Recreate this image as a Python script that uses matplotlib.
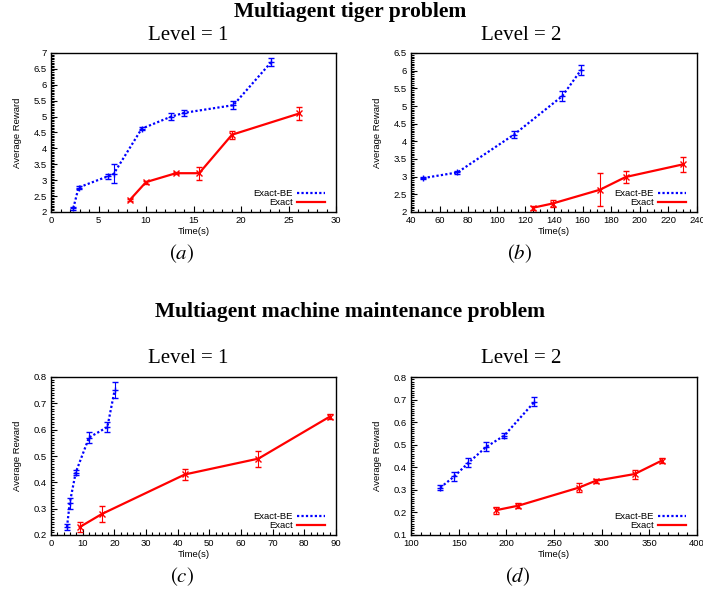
import matplotlib
matplotlib.use("Agg")
import matplotlib.pyplot as plt
from matplotlib.lines import Line2D
from matplotlib.ticker import MultipleLocator, FuncFormatter

plt.rcParams["mathtext.fontset"] = "stix"

# ---- data ----
# (a) tiger, level 1
a_be_x = [2.35, 2.9, 5.96, 6.6, 9.55, 12.65, 14.05, 19.2, 23.2]
a_be_y = [2.12, 2.77, 3.12, 3.2, 4.62, 5.0, 5.12, 5.36, 6.72]
a_be_e = [0.05, 0.05, 0.08, 0.3, 0.05, 0.12, 0.1, 0.12, 0.12]
a_ex_x = [8.3, 10.0, 13.15, 15.6, 19.05, 26.15]
a_ex_y = [2.38, 2.94, 3.22, 3.22, 4.43, 5.1]
a_ex_e = [0.04, 0.05, 0.04, 0.21, 0.12, 0.2]
# (b) tiger, level 2
b_be_x = [48.6, 72.5, 112.0, 145.8, 158.9]
b_be_y = [2.96, 3.12, 4.19, 5.28, 6.02]
b_be_e = [0.03, 0.05, 0.1, 0.14, 0.15]
b_ex_x = [125.2, 139.0, 172.1, 190.1, 230.4]
b_ex_y = [2.12, 2.24, 2.63, 2.99, 3.35]
b_ex_e = [0.06, 0.09, 0.47, 0.17, 0.21]
# (c) machine, level 1
c_be_x = [5.05, 5.9, 7.8, 12.0, 17.8, 20.1]
c_be_y = [0.23, 0.32, 0.437, 0.57, 0.61, 0.75]
c_be_e = [0.01, 0.02, 0.01, 0.02, 0.02, 0.03]
c_ex_x = [9.04, 16.1, 42.3, 65.5, 88.1]
c_ex_y = [0.23, 0.28, 0.43, 0.49, 0.65]
c_ex_e = [0.02, 0.03, 0.02, 0.03, 0.01]
# (d) machine, level 2
d_be_x = [130.8, 145.5, 160.2, 178.8, 197.7, 229.5]
d_be_y = [0.31, 0.36, 0.42, 0.49, 0.54, 0.69]
d_be_e = [0.01, 0.02, 0.02, 0.02, 0.01, 0.02]
d_ex_x = [189.3, 212.7, 276.1, 293.6, 334.5, 363.2]
d_ex_y = [0.21, 0.23, 0.31, 0.34, 0.37, 0.43]
d_ex_e = [0.015, 0.01, 0.02, 0.01, 0.02, 0.01]

legend_labels = ["Exact-BE", "Exact"]
BLUE = "#0000ff"
RED = "#ff0000"

W, H = 703, 593
fig = plt.figure(figsize=(W / 100, H / 100), dpi=100)

def rect(l, t, r, b):
    return [l / W, 1 - b / H, (r - l) / W, (b - t) / H]

SANS = "Liberation Sans"
SERIF = "Liberation Serif"
fmt = FuncFormatter(lambda v, p: "%g" % round(v, 6))

panels = [
    (rect(51, 53, 336, 212), a_be_x, a_be_y, a_be_e, a_ex_x, a_ex_y, a_ex_e,
     (0, 30), 5, 1, (2, 7), 0.5, 0.05),
    (rect(411, 53, 697, 212), b_be_x, b_be_y, b_be_e, b_ex_x, b_ex_y, b_ex_e,
     (40, 240), 20, 5, (2, 6.5), 0.5, 0.05),
    (rect(51, 377, 336, 535), c_be_x, c_be_y, c_be_e, c_ex_x, c_ex_y, c_ex_e,
     (0, 90), 10, 2, (0.2, 0.8), 0.1, 0.01),
    (rect(411, 377, 697, 535), d_be_x, d_be_y, d_be_e, d_ex_x, d_ex_y, d_ex_e,
     (100, 400), 50, 10, (0.1, 0.8), 0.1, 0.01),
]

for (r, bx, by, be, ex, ey, ee, xl, xmaj, xmin, yl, ymaj, ymin) in panels:
    ax = fig.add_axes(r)
    ax.errorbar(bx, by, yerr=be, color=BLUE, ls=(0, (1, 1)), lw=1.6,
                marker="+", ms=5, mew=1.0, capsize=2, elinewidth=0.8,
                capthick=0.8)
    ax.errorbar(ex, ey, yerr=ee, color=RED, ls="-", lw=1.6,
                marker="x", ms=4, mew=1.0, capsize=2, elinewidth=0.8,
                capthick=0.8)
    ax.set_xlim(*xl)
    ax.set_ylim(*yl)
    ax.xaxis.set_major_locator(MultipleLocator(xmaj))
    ax.xaxis.set_minor_locator(MultipleLocator(xmin))
    ax.yaxis.set_major_locator(MultipleLocator(ymaj))
    ax.yaxis.set_minor_locator(MultipleLocator(ymin))
    ax.xaxis.set_major_formatter(fmt)
    ax.yaxis.set_major_formatter(fmt)
    ax.tick_params(which="both", direction="in", labelsize=6.8, width=0.8)
    ax.tick_params(which="major", length=4, pad=3)
    ax.tick_params(which="minor", length=2)
    for lab in ax.get_xticklabels() + ax.get_yticklabels():
        lab.set_fontfamily(SANS)
    for s in ax.spines.values():
        s.set_linewidth(1.0)
    ax.set_xlabel("Time(s)", fontsize=6.8, family=SANS, labelpad=1)
    ax.set_ylabel("Average Reward", fontsize=6.8, family=SANS, labelpad=8)
    handles = [Line2D([], [], color=BLUE, ls=(0, (1, 1)), lw=1.6),
               Line2D([], [], color=RED, ls="-", lw=1.6)]
    ax.legend(handles, legend_labels, loc="lower right", frameon=False,
              markerfirst=False, handlelength=2.9, handletextpad=0.5,
              labelspacing=0.0, borderaxespad=0.0, borderpad=0.0,
              bbox_to_anchor=(0.961, 0.03),
              prop={"family": SANS, "size": 6.8})

def ftext(x, y, s, **kw):
    fig.text(x / W, 1 - y / H, s, ha="center", va="baseline", **kw)

ftext(350, 17, "Multiagent tiger problem", family=SERIF, weight="bold", fontsize=15.5)
ftext(188, 40, "Level = 1", family=SERIF, fontsize=15)
ftext(521, 40, "Level = 2", family=SERIF, fontsize=15)
ftext(182, 259, "$(a)$", fontsize=15)
ftext(520, 259, "$(b)$", fontsize=15)
ftext(350, 317, "Multiagent machine maintenance problem", family=SERIF, weight="bold", fontsize=15.5)
ftext(188, 363, "Level = 1", family=SERIF, fontsize=15)
ftext(521, 363, "Level = 2", family=SERIF, fontsize=15)
ftext(182, 582, "$(c)$", fontsize=15)
ftext(518, 582, "$(d)$", fontsize=15)

fig.savefig("out.png", dpi=100)
